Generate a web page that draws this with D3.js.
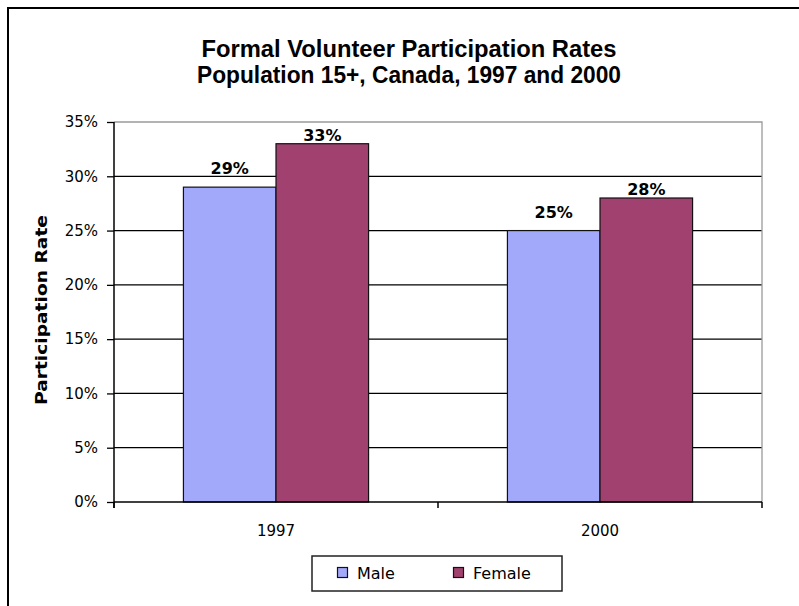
<!DOCTYPE html>
<html>
<head>
<meta charset="utf-8">
<script src="https://cdn.jsdelivr.net/npm/d3@7"></script>
<style>
  html, body { margin: 0; padding: 0; background: #fff; }
  svg { display: block; }
</style>
</head>
<body>
<svg id="chart" width="799" height="606"></svg>
<script>
// Chart data
const categories = ["1997", "2000"];
const seriesNames = ["Male", "Female"];
const maleValues = [29, 25];
const femaleValues = [33, 28];
const yTickValues = [0, 5, 10, 15, 20, 25, 30, 35];
const titleLines = ["Formal Volunteer Participation Rates", "Population 15+, Canada, 1997 and 2000"];
const yAxisTitle = "Participation Rate";

const colors = { Male: "#A3A9FA", Female: "#A0416F" };
const seriesValues = { Male: maleValues, Female: femaleValues };

const svg = d3.select("#chart");

// outer chart frame
svg.append("rect")
  .attr("x", 8).attr("y", 8)
  .attr("width", 820).attr("height", 640)
  .attr("fill", "#fff").attr("stroke", "#000").attr("stroke-width", 2);

// plot area
const plot = { left: 114, right: 762, top: 122, bottom: 502 };

const x = d3.scaleBand().domain(categories).range([plot.left, plot.right]).padding(0);
const xs = d3.scaleBand().domain(seriesNames).range([0, x.bandwidth()])
  .paddingInner(0).paddingOuter(0.75);
const y = d3.scaleLinear().domain([0, 35]).range([plot.bottom, plot.top]);

// horizontal gridlines
svg.append("g")
  .selectAll("line")
  .data(yTickValues.filter(v => v > 0 && v < 35))
  .join("line")
  .attr("x1", plot.left).attr("x2", plot.right)
  .attr("y1", d => y(d)).attr("y2", d => y(d))
  .attr("stroke", "#000").attr("stroke-width", 1.3);

// plot area border (top and right) in grey
svg.append("path")
  .attr("d", `M${plot.left},${y(35)}H${plot.right}V${plot.bottom}`)
  .attr("fill", "none").attr("stroke", "#9a9a9a").attr("stroke-width", 1.3);

// bars
const groups = svg.append("g").selectAll("g")
  .data(categories)
  .join("g")
  .attr("transform", d => `translate(${x(d)},0)`);

groups.selectAll("rect")
  .data((c, i) => seriesNames.map(s => ({ s, v: seriesValues[s][i] })))
  .join("rect")
  .attr("x", d => xs(d.s))
  .attr("y", d => y(d.v))
  .attr("width", xs.bandwidth())
  .attr("height", d => y(0) - y(d.v))
  .attr("fill", d => colors[d.s])
  .attr("stroke", "#111").attr("stroke-width", 1.2);

// value labels
groups.selectAll("text")
  .data((c, i) => seriesNames.map(s => ({ s, v: seriesValues[s][i] })))
  .join("text")
  .attr("x", d => xs(d.s) + xs.bandwidth() / 2)
  .attr("y", d => y(d.v) - (d.s === "Male" ? 13 : 3))
  .attr("text-anchor", "middle")
  .attr("font-family", "DejaVu Sans, sans-serif")
  .attr("font-weight", "bold")
  .attr("font-size", 16)
  .attr("fill", "#000")
  .text(d => d.v + "%");

// y axis
const yAxis = d3.axisLeft(y).tickValues(yTickValues).tickFormat(d => d + "%")
  .tickSize(7).tickPadding(9);
const gy = svg.append("g").attr("transform", `translate(${plot.left},0)`).call(yAxis);
gy.select(".domain").attr("d", `M0,${plot.top}V${plot.bottom + 6}`)
  .attr("stroke", "#000").attr("stroke-width", 1.5);
gy.selectAll(".tick line").attr("stroke", "#000").attr("stroke-width", 1.3);
gy.selectAll(".tick text")
  .attr("font-family", "DejaVu Sans, sans-serif")
  .attr("font-size", 15)
  .attr("fill", "#000");

// x axis with ticks on category boundaries
const xAxisLine = svg.append("g");
xAxisLine.append("line")
  .attr("x1", plot.left).attr("x2", plot.right)
  .attr("y1", plot.bottom).attr("y2", plot.bottom)
  .attr("stroke", "#000").attr("stroke-width", 1.5);
const boundaries = categories.map(c => x(c)).concat([x(categories[categories.length - 1]) + x.bandwidth()]);
xAxisLine.selectAll("line.tk")
  .data(boundaries)
  .join("line").attr("class", "tk")
  .attr("x1", d => d).attr("x2", d => d)
  .attr("y1", plot.bottom).attr("y2", plot.bottom + 6)
  .attr("stroke", "#000").attr("stroke-width", 1.5);
xAxisLine.selectAll("text")
  .data(categories)
  .join("text")
  .attr("x", d => x(d) + x.bandwidth() / 2)
  .attr("y", plot.bottom + 34)
  .attr("text-anchor", "middle")
  .attr("font-family", "DejaVu Sans, sans-serif")
  .attr("font-size", 15)
  .attr("fill", "#000")
  .text(d => d);

// title
const titleLengths = [415, 424];
svg.append("g").selectAll("text")
  .data(titleLines)
  .join("text")
  .attr("x", 409)
  .attr("y", (d, i) => 57 + i * 26)
  .attr("text-anchor", "middle")
  .attr("font-family", "Liberation Sans, Arial, sans-serif")
  .attr("font-weight", "bold")
  .attr("font-size", 23)
  .attr("textLength", (d, i) => titleLengths[i])
  .attr("lengthAdjust", "spacingAndGlyphs")
  .attr("fill", "#000")
  .text(d => d);

// y axis title
svg.append("text")
  .attr("transform", `translate(47,${(plot.top + plot.bottom) / 2 - 2}) rotate(-90)`)
  .attr("text-anchor", "middle")
  .attr("font-family", "DejaVu Sans, sans-serif")
  .attr("font-weight", "bold")
  .attr("font-size", 16)
  .attr("textLength", 190)
  .attr("lengthAdjust", "spacingAndGlyphs")
  .attr("fill", "#000")
  .text(yAxisTitle);

// legend
const legend = svg.append("g");
legend.append("rect")
  .attr("x", 312).attr("y", 556).attr("width", 250).attr("height", 35)
  .attr("fill", "#fff").attr("stroke", "#222").attr("stroke-width", 1.5);
const legendX = { Male: 337, Female: 453 };
const items = legend.selectAll("g.item")
  .data(seriesNames)
  .join("g").attr("class", "item")
  .attr("transform", d => `translate(${legendX[d]},567)`);
items.append("rect")
  .attr("x", 0.5).attr("y", 0.5).attr("width", 10).attr("height", 10)
  .attr("fill", d => colors[d]).attr("stroke", "#111").attr("stroke-width", 1.2);
items.append("text")
  .attr("x", 20).attr("y", 11.5)
  .attr("font-family", "DejaVu Sans, sans-serif")
  .attr("font-size", 16)
  .attr("fill", "#000")
  .text(d => d);
</script>
</body>
</html>
